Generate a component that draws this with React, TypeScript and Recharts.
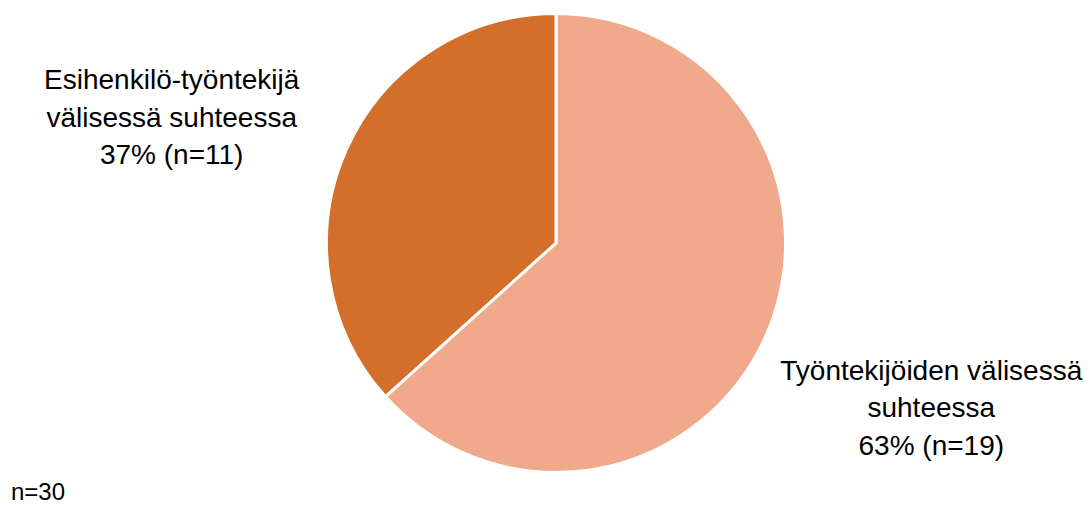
import React from "react";
import { PieChart, Pie, Cell } from "recharts";

const categories = ["Työntekijöiden välisessä suhteessa", "Esihenkilö-työntekijä välisessä suhteessa"];
const counts = [19, 11];
const percents = [63, 37];
const labelLines = [
  ["Työntekijöiden välisessä", "suhteessa", "63% (n=19)"],
  ["Esihenkilö-työntekijä", "välisessä suhteessa", "37% (n=11)"],
];
const colors = ["#F1A98B", "#D36F2A"];
const totalLabel = "n=30";

const data = categories.map((name, i) => ({ name, value: counts[i], pct: percents[i] }));

const FONT = "'Liberation Sans', Arial, sans-serif";
const FS = 28;
const LH = 37.5;

const renderLabel = (props: any) => {
  const { cx, cy, midAngle, outerRadius, index } = props;
  const RAD = Math.PI / 180;
  const factor = 1.79;
  let x = cx + outerRadius * factor * Math.cos(-midAngle * RAD);
  let yMid = cy + outerRadius * factor * Math.sin(-midAngle * RAD);
  if (index === 1) {
    yMid += 41;
    x -= 9;
  } else {
    yMid -= 3;
  }
  const lines = labelLines[index];
  const y0 = yMid - ((lines.length - 1) * LH) / 2;
  return (
    <text x={x} y={y0} textAnchor="middle" fontFamily={FONT} fontSize={FS} fill="#000" dominantBaseline="central">
      {lines.map((l, i) => (
        <tspan key={i} x={x} y={y0 + i * LH} dominantBaseline="central">
          {l}
        </tspan>
      ))}
    </text>
  );
};

export default function App() {
  return (
    <div style={{ position: "absolute", left: 0, top: 0, width: 1091, height: 506, background: "#fff" }}>
      <PieChart width={1091} height={506}>
        <Pie
          data={data}
          dataKey="value"
          nameKey="name"
          cx={551}
          cy={238}
          outerRadius={229.5}
          startAngle={90}
          endAngle={-270}
          stroke="#ffffff"
          strokeWidth={3}
          label={renderLabel}
          labelLine={false}
          isAnimationActive={false}
        >
          {data.map((d, i) => (
            <Cell key={d.name} fill={colors[i]} />
          ))}
        </Pie>
        <text x={11} y={500} fontFamily={FONT} fontSize={24} fill="#000">
          {totalLabel}
        </text>
      </PieChart>
    </div>
  );
}
